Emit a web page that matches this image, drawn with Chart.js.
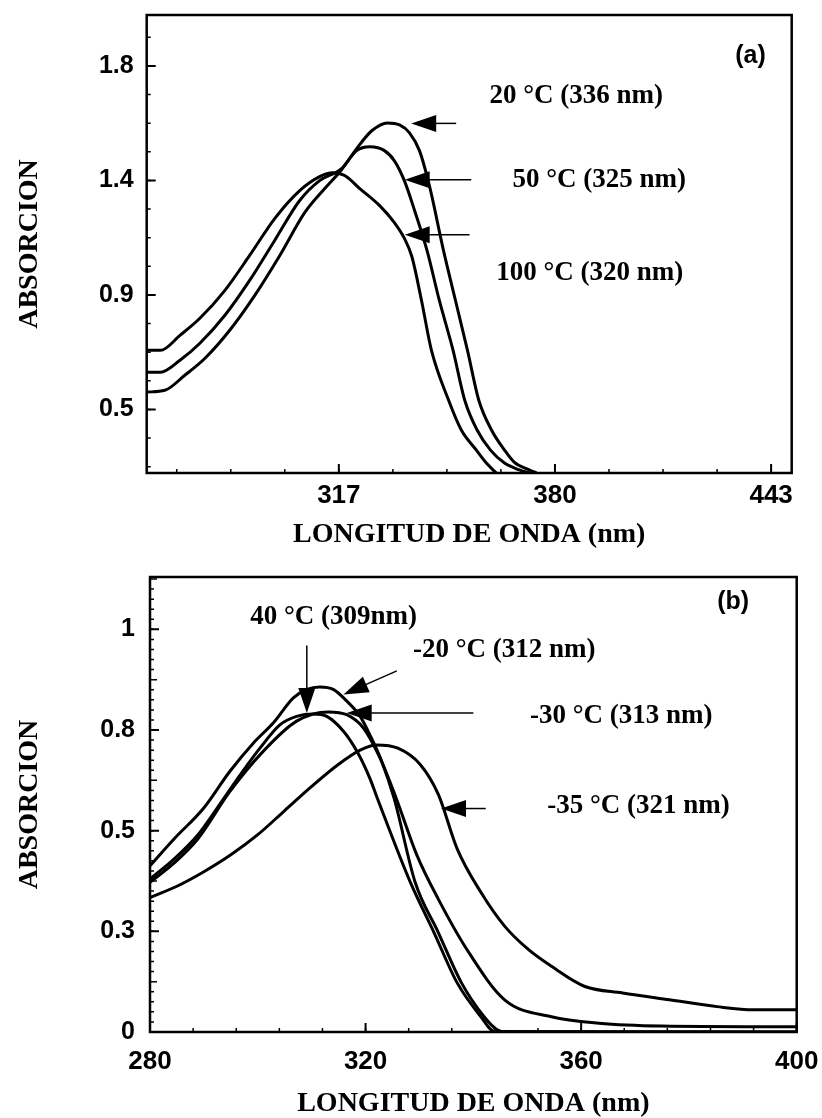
<!DOCTYPE html>
<html>
<head>
<meta charset="utf-8">
<script src="https://cdn.jsdelivr.net/npm/chart.js@4.4.1/dist/chart.umd.min.js"></script>
<style>
    html, body { margin: 0; padding: 0; background: #fff; }
    #wrap { position: relative; width: 822px; height: 1118px; }
    .panel { position: absolute; left: 0; width: 822px; }
    #pa { top: 0; height: 558px; }
    #pb { top: 558px; height: 560px; }
</style>
</head>
<body>
<div id="wrap">
    <div class="panel" id="pa"><canvas id="chartA"></canvas></div>
    <div class="panel" id="pb"><canvas id="chartB"></canvas></div>
</div>
<script>
// PANEL (a) - absorcion vs longitud de onda, 3 temperaturas
const a100x = [261.0, 265.0, 270.7, 276.5, 283.8, 291.0, 298.3, 305.6, 311.4, 315.2, 318.7, 323.1, 328.9, 333.2, 336.0, 338.3, 341.1, 344.0, 349.0, 352.7, 357.1, 360.0, 362.9];
const a100y = [0.682, 0.682, 0.741, 0.808, 0.918, 1.055, 1.200, 1.310, 1.365, 1.380, 1.369, 1.318, 1.251, 1.184, 1.125, 1.050, 0.878, 0.682, 0.486, 0.369, 0.290, 0.239, 0.200];

const a50x = [261.0, 265.0, 270.7, 276.5, 283.8, 291.0, 298.3, 305.6, 311.4, 317.8, 322.2, 326.0, 330.3, 333.2, 336.1, 339.1, 342.7, 346.3, 350.3, 353.7, 357.3, 361.2, 365.3, 369.6, 372.5];
const a50y = [0.596, 0.596, 0.643, 0.710, 0.820, 0.957, 1.114, 1.271, 1.349, 1.396, 1.467, 1.482, 1.467, 1.427, 1.349, 1.231, 1.075, 0.878, 0.682, 0.486, 0.369, 0.290, 0.239, 0.212, 0.200];

const a20x = [261.0, 266.3, 272.1, 278.0, 285.2, 292.5, 299.8, 307.1, 312.9, 317.8, 322.2, 326.6, 331.2, 334.7, 337.6, 340.5, 343.4, 347.5, 351.0, 354.5, 357.8, 361.5, 365.3, 368.1, 372.5, 374.6];
const a20y = [0.518, 0.525, 0.584, 0.651, 0.761, 0.898, 1.055, 1.224, 1.318, 1.392, 1.475, 1.545, 1.576, 1.568, 1.537, 1.467, 1.329, 1.075, 0.878, 0.682, 0.486, 0.369, 0.290, 0.243, 0.212, 0.200];

const aXTicks = [317, 380, 443];
const aXLabels = ['317', '380', '443'];
const aYTicks = [0.45, 0.9, 1.35, 1.8];
const aYLabels = ['0.5', '0.9', '1.4', '1.8'];

// PANEL (b) - temperaturas bajas
const bN20x = [280, 284.5, 289.9, 294.8, 299.2, 302.9, 306.6, 309.1, 311.5, 314.0, 316.5, 319.0, 320.8, 323.0, 325.3, 329.2, 333.5, 337.8, 342.0, 344.5, 346.0, 400];
const bN20y = [0.413, 0.48, 0.555, 0.647, 0.718, 0.768, 0.830, 0.851, 0.857, 0.851, 0.822, 0.784, 0.738, 0.672, 0.580, 0.372, 0.247, 0.122, 0.038, 0.005, 0, 0];

const b40x = [280, 284.5, 288.9, 292.4, 296.7, 300.4, 304.1, 307.2, 310.3, 312.8, 315.9, 318.4, 320.8, 322.2, 328.3, 332.7, 337.0, 341.4, 344.0, 400];
const b40y = [0.380, 0.430, 0.490, 0.555, 0.638, 0.705, 0.763, 0.784, 0.790, 0.784, 0.747, 0.697, 0.630, 0.580, 0.372, 0.247, 0.122, 0.038, 0.001, 0];

const bN30x = [280, 284.5, 288.9, 294.8, 301.0, 307.2, 313.1, 316.5, 319.6, 322.7, 325.7, 329.5, 333.5, 338.8, 345.8, 354.5, 363.3, 375, 400];
const bN30y = [0.372, 0.420, 0.480, 0.597, 0.697, 0.772, 0.795, 0.788, 0.755, 0.680, 0.580, 0.440, 0.330, 0.205, 0.080, 0.038, 0.022, 0.015, 0.013];

const bN35x = [280, 285, 290, 295, 300, 305, 310, 315, 319, 322, 326, 330.1, 333.5, 337.0, 341.4, 345.8, 350.2, 354.5, 360.7, 367.7, 376.4, 385.2, 392, 400];
const bN35y = [0.334, 0.362, 0.398, 0.440, 0.490, 0.550, 0.610, 0.665, 0.700, 0.713, 0.705, 0.665, 0.590, 0.455, 0.347, 0.263, 0.205, 0.163, 0.113, 0.097, 0.080, 0.063, 0.055, 0.055];

const bXTicks = [280, 320, 360, 400];
const bXLabels = ['280', '320', '360', '400'];
const bYTicks = [0, 0.25, 0.5, 0.75, 1.0];
const bYLabels = ['0', '0.3', '0.5', '0.8', '1'];

const SANS = '"Liberation Sans", Arial, sans-serif';
const SERIF = '"Liberation Serif", "Times New Roman", serif';

function lineSet(xs, ys) {
    return {
        data: xs.map((v, i) => ({ x: v, y: ys[i] })),
        showLine: true,
        borderColor: '#000',
        borderWidth: 3,
        pointRadius: 0,
        cubicInterpolationMode: 'monotone',
        fill: false
    };
}

function axis(o) {
    return {
        type: 'linear',
        min: o.min,
        max: o.max,
        afterBuildTicks: s => { s.ticks = o.ticks.map(v => ({ value: v })); },
        afterFit: s => {
            if (o.isX) s.height = o.size; else s.width = o.size;
            // keep the plot box where the layout padding puts it
            s.paddingTop = 0; s.paddingBottom = 0; s.paddingLeft = 0; s.paddingRight = 0;
        },
        grid: { display: false, drawTicks: false },
        border: { display: false },
        ticks: {
            color: '#000',
            autoSkip: false,
            maxRotation: 0,
            padding: o.pad,
            font: { family: SANS, weight: 'bold', size: o.fontSize },
            callback: v => o.labels[o.ticks.indexOf(v)]
        },
        title: {
            display: true,
            text: o.title,
            color: '#000',
            font: { family: SERIF, weight: 'bold', size: 28, lineHeight: 1 },
            padding: { top: o.titlePad, bottom: o.titlePad }
        }
    };
}

function arrow(ctx, x1, y1, x2, y2) {
    const ang = Math.atan2(y2 - y1, x2 - x1);
    const L = 25, W = 8.5;
    const c = Math.cos(ang), s = Math.sin(ang);
    ctx.beginPath();
    ctx.moveTo(x1, y1);
    ctx.lineTo(x2 - L * 0.8 * c, y2 - L * 0.8 * s);
    ctx.stroke();
    ctx.beginPath();
    ctx.moveTo(x2, y2);
    ctx.lineTo(x2 - L * c + W * s, y2 - L * s - W * c);
    ctx.lineTo(x2 - L * c - W * s, y2 - L * s + W * c);
    ctx.closePath();
    ctx.fill();
}

// box + inward ticks + labels with arrows
const framePlugin = {
    id: 'frame',
    afterDatasetsDraw(chart, args, opts) {
        const { ctx, chartArea: a, scales: { x, y } } = chart;
        ctx.save();
        ctx.strokeStyle = '#000';
        ctx.fillStyle = '#000';

        // minor ticks
        ctx.lineWidth = 1.5;
        ctx.beginPath();
        for (let v = opts.xMinor[0]; v <= x.max + 1e-9; v += opts.xMinor[1]) {
            if (v < x.min) continue;
            const px = x.getPixelForValue(v);
            ctx.moveTo(px, a.bottom); ctx.lineTo(px, a.bottom - 4);
        }
        for (let v = opts.yMinor[0]; v <= y.max + 1e-9; v += opts.yMinor[1]) {
            if (v < y.min) continue;
            const py = y.getPixelForValue(v);
            ctx.moveTo(a.left, py); ctx.lineTo(a.left + 4, py);
        }
        if (opts.yMid) {
            for (let v = opts.yMid[0]; v <= y.max + 1e-9; v += opts.yMid[1]) {
                const py = y.getPixelForValue(v);
                ctx.moveTo(a.left, py); ctx.lineTo(a.left + 7, py);
            }
        }
        ctx.stroke();

        // major ticks
        ctx.lineWidth = 2;
        ctx.beginPath();
        x.ticks.forEach(t => {
            const px = x.getPixelForValue(t.value);
            ctx.moveTo(px, a.bottom); ctx.lineTo(px, a.bottom - 9);
        });
        y.ticks.forEach(t => {
            const py = y.getPixelForValue(t.value);
            ctx.moveTo(a.left, py); ctx.lineTo(a.left + 9, py);
        });
        ctx.stroke();

        // frame
        ctx.lineWidth = 2.5;
        ctx.strokeRect(a.left, a.top, a.right - a.left, a.bottom - a.top);

        // panel tag
        ctx.font = 'bold 25px ' + SANS;
        ctx.textAlign = 'center';
        ctx.textBaseline = 'middle';
        ctx.fillText(opts.tag.text, x.getPixelForValue(opts.tag.at[0]), y.getPixelForValue(opts.tag.at[1]));

        // annotations
        ctx.font = 'bold 27px ' + SERIF;
        ctx.textAlign = 'left';
        opts.notes.forEach(n => {
            ctx.fillText(n.text, x.getPixelForValue(n.at[0]), y.getPixelForValue(n.at[1]));
        });
        ctx.lineWidth = 1.5;
        opts.arrows.forEach(r => {
            arrow(ctx, x.getPixelForValue(r[0]), y.getPixelForValue(r[1]),
                x.getPixelForValue(r[2]), y.getPixelForValue(r[3]));
        });
        ctx.restore();
    }
};

Chart.register(framePlugin);

function baseOptions(padding, xAxis, yAxis, frame) {
    return {
        responsive: true,
        maintainAspectRatio: false,
        animation: false,
        devicePixelRatio: 1,
        layout: { padding: padding },
        plugins: { legend: { display: false }, tooltip: { enabled: false }, frame: frame },
        scales: { x: xAxis, y: yAxis }
    };
}

// 1. Panel (a)
new Chart(document.getElementById('chartA'), {
    type: 'scatter',
    data: { datasets: [lineSet(a20x, a20y), lineSet(a50x, a50y), lineSet(a100x, a100y)] },
    options: baseOptions(
        { left: 0, top: 15, right: 30.3, bottom: 0 },
        axis({ isX: true, min: 261, max: 449, ticks: aXTicks, labels: aXLabels, fontSize: 26, pad: 7, size: 85, title: 'LONGITUD DE ONDA (nm)', titlePad: 9 }),
        axis({ isX: false, min: 0.2, max: 2.0, ticks: aYTicks, labels: aYLabels, fontSize: 25, pad: 13, size: 146.7, title: 'ABSORCION', titlePad: 16 }),
        {
            xMinor: [254, 15.75],
            yMinor: [0.225, 0.1125],
            tag: { text: '(a)', at: [437, 1.84] },
            notes: [
                { text: '20 °C (336 nm)', at: [360.9, 1.682] },
                { text: '50 °C (325 nm)', at: [367.6, 1.353] },
                { text: '100 °C (320 nm)', at: [362.9, 0.984] }
            ],
            arrows: [
                [351.2, 1.574, 338.1, 1.574],
                [355.6, 1.353, 336.2, 1.353],
                [355.1, 1.136, 336.2, 1.136]
            ]
        }
    )
});

// 2. Panel (b)
new Chart(document.getElementById('chartB'), {
    type: 'scatter',
    data: { datasets: [lineSet(bN20x, bN20y), lineSet(b40x, b40y), lineSet(bN30x, bN30y), lineSet(bN35x, bN35y)] },
    options: baseOptions(
        { left: 0, top: 19, right: 25.3, bottom: 0 },
        axis({ isX: true, min: 280, max: 400, ticks: bXTicks, labels: bXLabels, fontSize: 26, pad: 14, size: 86, title: 'LONGITUD DE ONDA (nm)', titlePad: 0 }),
        axis({ isX: false, min: 0, max: 1.13, ticks: bYTicks, labels: bYLabels, fontSize: 25, pad: 15, size: 150, title: 'ABSORCION', titlePad: 16 }),
        {
            xMinor: [280, 8],
            yMinor: [0, 0.025],
            yMid: [0.125, 0.25],
            tag: { text: '(b)', at: [388.2, 1.0675] },
            notes: [
                { text: '40 °C (309nm)', at: [298.6, 1.03] },
                { text: '-20 °C (312 nm)', at: [328.8, 0.9475] },
                { text: '-30 °C (313 nm)', at: [350.5, 0.785] },
                { text: '-35 °C (321 nm)', at: [353.7, 0.56] }
            ],
            arrows: [
                [309.1, 0.96, 309.1, 0.7925],
                [325.8, 0.897, 315.9, 0.838],
                [340.0, 0.7925, 316.5, 0.7925],
                [342.3, 0.555, 334.0, 0.555]
            ]
        }
    )
});
</script>
</body>
</html>
